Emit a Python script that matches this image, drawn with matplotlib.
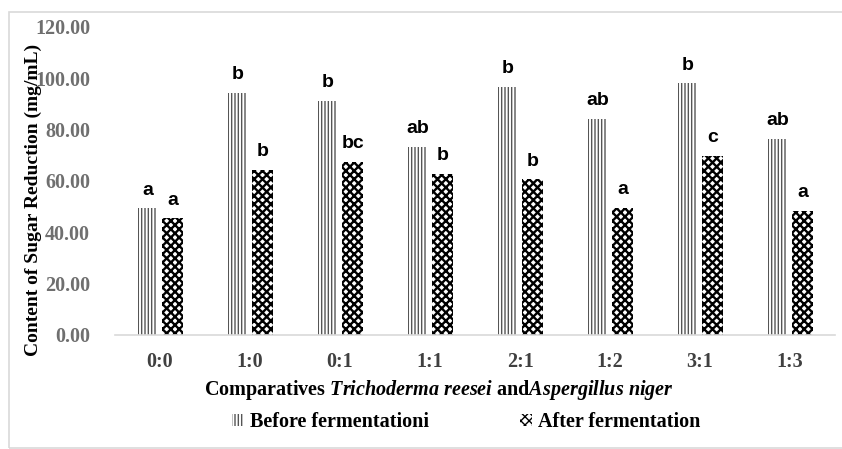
import matplotlib
matplotlib.use('Agg')
import matplotlib.pyplot as plt
from matplotlib.patches import Rectangle
import numpy as np

# Data
ratios = ['0:0', '1:0', '0:1', '1:1', '2:1', '1:2', '3:1', '1:3']
before = [49.3, 94.3, 91.2, 73.4, 96.8, 84.1, 98.0, 76.4]
after = [45.4, 64.4, 67.4, 62.7, 60.6, 49.6, 69.9, 48.3]
before_letters = ['a', 'b', 'b', 'ab', 'b', 'ab', 'b', 'ab']
after_letters = ['a', 'b', 'bc', 'b', 'b', 'a', 'c', 'a']
yticks = [0, 20, 40, 60, 80, 100, 120]

plt.rcParams['font.family'] = ['Liberation Serif', 'DejaVu Serif']
plt.rcParams['mathtext.fontset'] = 'custom'
plt.rcParams['mathtext.rm'] = 'Liberation Serif:bold'
plt.rcParams['mathtext.it'] = 'Liberation Serif:italic:bold'
plt.rcParams['mathtext.bf'] = 'Liberation Serif:bold'
plt.rcParams['hatch.linewidth'] = 1.0

fig = plt.figure(figsize=(8.42, 4.49), dpi=100)
ax = fig.add_axes([0.1366, 0.2539, 0.8551, 0.686])

# light frame around the chart
fig.patches.append(Rectangle((9/842, 1/449), 1.2, 1 - 13/449, transform=fig.transFigure,
                             fill=False, edgecolor='#d9d9d9', linewidth=1.2))

x = np.arange(len(ratios))
off = 0.14
b1 = ax.bar(x - off, before, 0.2, facecolor='white', edgecolor='#555555',
            linewidth=0, hatch='|||||', label='Before fermentationi')
with plt.rc_context({'hatch.linewidth': 1.7}):
    b2 = ax.bar(x + off, after, 0.235, facecolor='white', edgecolor='black',
                linewidth=0, hatch='xxxx', label='After fermentation')
for p in b2:
    if hasattr(p, 'set_hatch_linewidth'):
        p.set_hatch_linewidth(1.7)

for rects, letters in ((b1, before_letters), (b2, after_letters)):
    for r, t in zip(rects, letters):
        ax.annotate(t, xy=(r.get_x() + r.get_width() / 2, r.get_height()),
                    xytext=(0, 7), textcoords='offset points', ha='center', va='bottom',
                    fontsize=14, fontweight='bold', family='Liberation Sans', color='black')

ax.set_xlim(-0.5, len(ratios) - 0.5)
ax.set_ylim(0, 120)
ax.set_yticks(yticks)
ax.set_yticklabels([f'{v:.2f}' for v in yticks], fontsize=14.5, fontweight='bold', color='#6f6f6f')
ax.set_xticks(x)
ax.set_xticklabels(ratios, fontsize=14.5, fontweight='bold', color='#404040')
ax.tick_params(axis='both', length=0)
ax.tick_params(axis='y', pad=18)
ax.tick_params(axis='x', pad=12)

for s in ['top', 'right', 'left']:
    ax.spines[s].set_visible(False)
ax.spines['bottom'].set_color('#d9d9d9')
ax.spines['bottom'].set_linewidth(1.2)

fig.text(33/842, 1 - 200/449, 'Content of Sugar Reduction (mg/mL)', rotation=90,
         ha='center', va='center', fontsize=14, fontweight='bold', color='black')
fig.text(439/842, 1 - 390/449,
         r'Comparatives $\it{Trichoderma\ reesei}$ and$\it{Aspergillus\ niger}$',
         ha='center', va='center', fontsize=14.5, fontweight='bold', color='black')

leg = fig.legend(handles=[b1, b2], loc='center', bbox_to_anchor=(466/842, 1 - 422/449),
                 ncol=2, frameon=False, columnspacing=4.5, handlelength=0.6, handleheight=0.6,
                 handletextpad=0.3, prop={'family': 'Liberation Serif', 'weight': 'bold', 'size': 14.5})

fig.savefig('out.png', dpi=100)
